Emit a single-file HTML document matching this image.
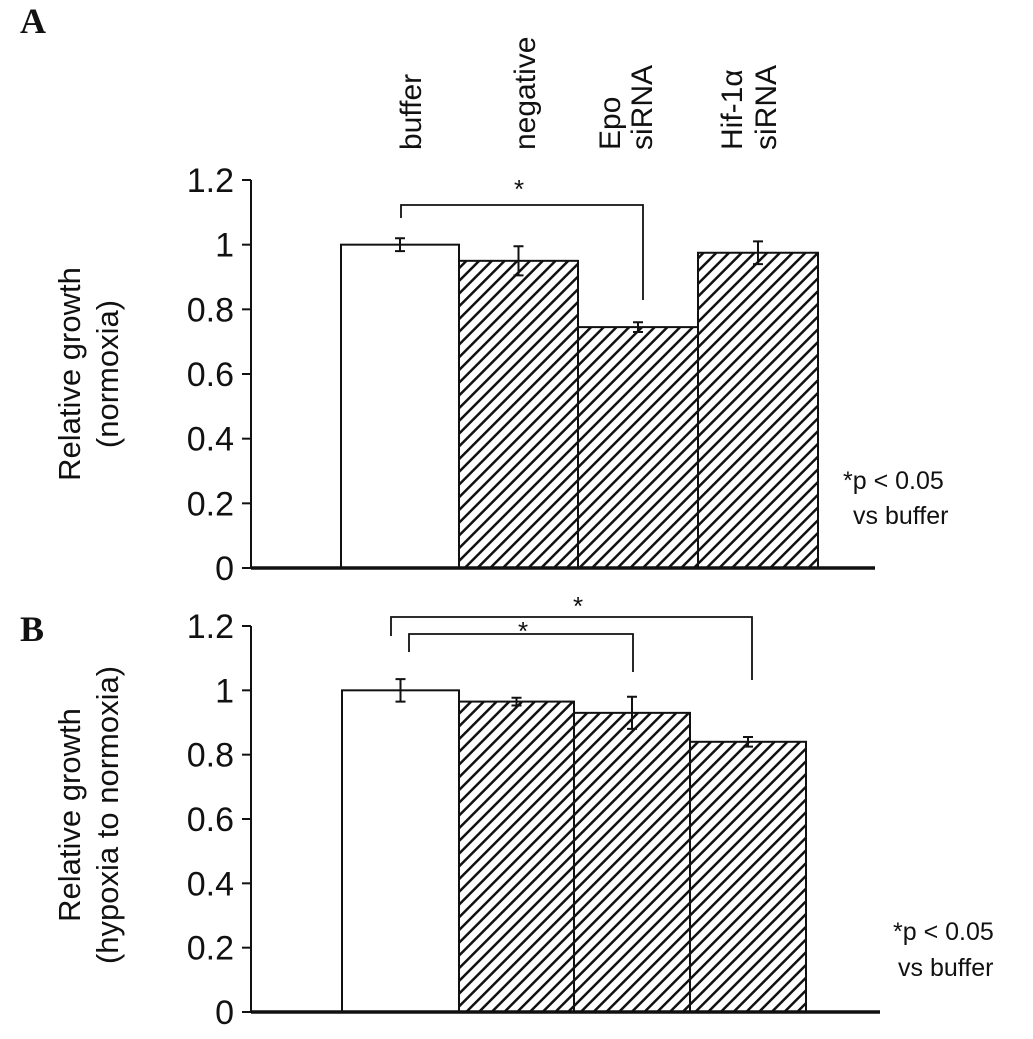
<!DOCTYPE html>
<html><head><meta charset="utf-8"><style>
body{margin:0;background:#fff}
text{font-family:"Liberation Sans",Arial,sans-serif;fill:#111}
</style></head><body>
<svg width="1033" height="1034" viewBox="0 0 1033 1034" xmlns="http://www.w3.org/2000/svg">
<defs>
<pattern id="hatch" patternUnits="userSpaceOnUse" width="9" height="9" patternTransform="rotate(45)">
<rect width="9" height="9" fill="#fff"/><line x1="0" y1="0" x2="0" y2="9" stroke="#111" stroke-width="5"/>
</pattern>
</defs>
<text x="20" y="33" style="font-family:'Liberation Serif',serif;font-weight:bold;font-size:36px">A</text>
<text x="20" y="641" style="font-family:'Liberation Serif',serif;font-weight:bold;font-size:36px">B</text>
<g id="cats" font-size="30"></g>
<g id="pa"></g><g id="pb"></g>
<text transform="translate(80,374) rotate(-90)" text-anchor="middle" font-size="31">Relative growth</text>
<text transform="translate(118,374) rotate(-90)" text-anchor="middle" font-size="31">(normoxia)</text>
<text transform="translate(80,815) rotate(-90)" text-anchor="middle" font-size="31">Relative growth</text>
<text transform="translate(118,815) rotate(-90)" text-anchor="middle" font-size="31">(hypoxia to normoxia)</text>
<text x="843" y="489" font-size="25">*p &lt; 0.05</text>
<text x="853" y="524" font-size="25">vs buffer</text>
<text x="893" y="940" font-size="25">*p &lt; 0.05</text>
<text x="898" y="976" font-size="25">vs buffer</text>
</svg>
<script>
const categories=["buffer","negative","Epo siRNA","Hif-1α siRNA"];
const valuesA=[1.0,0.95,0.745,0.975];
const errorsA=[0.02,0.045,0.015,0.035];
const valuesB=[1.0,0.965,0.93,0.84];
const errorsB=[0.035,0.012,0.05,0.015];
const ticks=[0,0.2,0.4,0.6,0.8,1,1.2];
const tickLabels=["0","0.2","0.4","0.6","0.8","1","1.2"];
const NS="http://www.w3.org/2000/svg";
function mk(p,t,a){const e=document.createElementNS(NS,t);for(const k in a)e.setAttribute(k,a[k]);p.appendChild(e);return e;}
function panel(g,vals,errs,y0,y12,xs,xe,axisEnd,pre){
  const y=v=>y0+(y12-y0)*v/1.2;
  ticks.forEach((t,i)=>{
    const l=mk(g,'line',{x1:242,x2:251,y1:y(t),y2:y(t),stroke:'#111','stroke-width':2});
    
    
    const tx=mk(g,'text',{x:234,y:y(t)+12,'text-anchor':'end','font-size':34});
    tx.textContent=tickLabels[i];
    
    
  });
  const ax=mk(g,'line',{x1:251,x2:251,y1:y12,y2:y0,stroke:'#111','stroke-width':2});
  
  
  vals.forEach((v,i)=>{
    const r=mk(g,'rect',{x:xs[i],y:y(v),width:xe[i]-xs[i],height:y0-y(v),fill:i?'url(#hatch)':'#fff',stroke:'#111','stroke-width':2});
    
    
    const cx=(xs[i]+xe[i])/2,e=errs[i];
    const eb=mk(g,'path',{d:`M${cx},${y(v+e)}V${y(v-e)}M${cx-5},${y(v+e)}h10M${cx-5},${y(v-e)}h10`,stroke:'#111','stroke-width':2,fill:'none'});
    
    
  });
  const xa=mk(g,'line',{x1:251,x2:axisEnd,y1:y0,y2:y0,stroke:'#111','stroke-width':3.5});
  
  
  return y;
}
const pa=document.getElementById('pa'),pb=document.getElementById('pb');
panel(pa,valuesA,errorsA,568,180,[341,459,578,698],[459,578,698,818],875,'a');
panel(pb,valuesB,errorsB,1012,626,[342,459,574,690],[459,574,690,806],880,'b');
function bracket(g,x1,x2,yt,yl,yr,sx,sy,name){
  const p=mk(g,'path',{d:`M${x1},${yl}V${yt}H${x2}V${yr}`,stroke:'#111','stroke-width':1.8,fill:'none'});
  
  
  const s=mk(g,'text',{x:sx,y:sy,'text-anchor':'middle','font-size':26});s.textContent='*';
  
  
}
bracket(pa,401,643,205,218,300,519,198,'sig-bracket-a');
bracket(pb,391,752,617,636,680,578,615,'sig-bracket-b-outer');
bracket(pb,409,633,634,652,672,523,640,'sig-bracket-b-inner');
const cg=document.getElementById('cats');
const catLines=[["buffer"],["negative"],["Epo","siRNA"],["Hif-1α","siRNA"]];
const catX=[[421],[535],[620,652],[742,776]];
catLines.forEach((ls,i)=>ls.forEach((s,j)=>{
  const t=mk(cg,'text',{transform:`translate(${catX[i][j]},150) rotate(-90)`,'font-size':30});
  t.textContent=s;
  
  
}));
</script>
</body></html>
